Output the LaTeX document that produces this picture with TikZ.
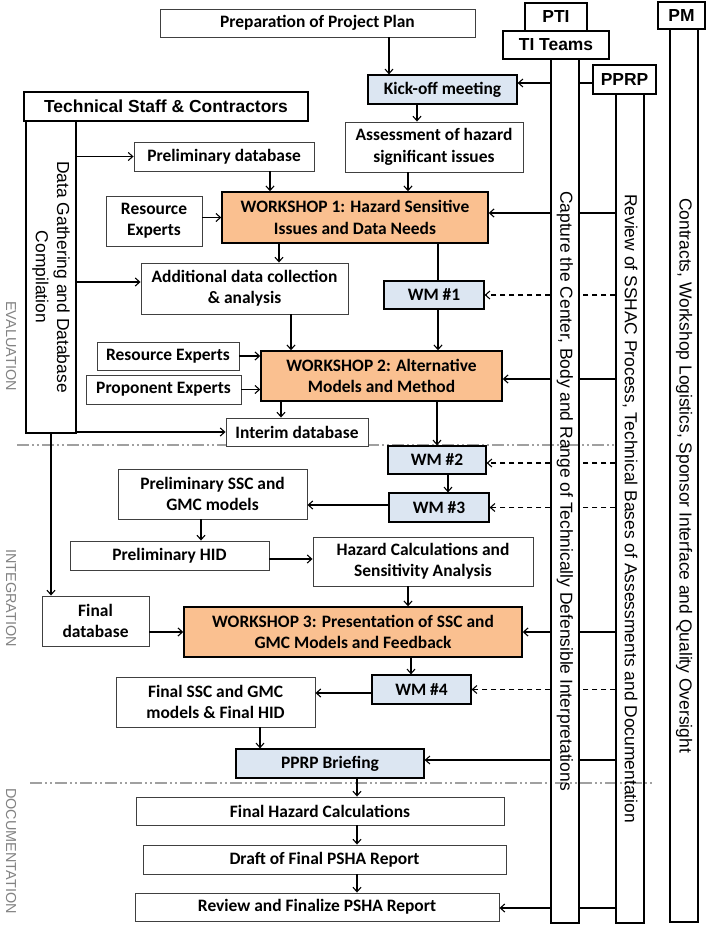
\documentclass[tikz,border=0pt]{standalone}
\usepackage{fontspec}
\setmainfont{Carlito}
\newfontfamily\arialfont{Liberation Sans}
\usetikzlibrary{arrows.meta}
\definecolor{wsorange}{RGB}{250,192,144}
\definecolor{wmblue}{RGB}{220,230,242}
\definecolor{phasegray}{RGB}{130,130,130}
\definecolor{linegray}{RGB}{160,160,160}
\newcommand{\boxfont}{\fontsize{17.5}{21.5}\selectfont\bfseries}
\newcommand{\colfont}{\fontsize{17.5}{21.5}\selectfont\arialfont}
\tikzset{
  box/.style={draw=black!75, line width=0.9bp, fill=white, align=center, font=\boxfont, inner sep=1bp},
  wsbox/.style={box, draw=black, line width=1.4bp, fill=wsorange},
  wmbox/.style={box, draw=black, line width=1.2bp, fill=wmblue},
  teambox/.style={draw=black, line width=1.3bp, fill=white, inner sep=0bp, font=\colfont\bfseries},
  colbox/.style={draw=black, line width=1.3bp, inner sep=0bp},
  coltext/.style={rotate=-90, align=center, font=\colfont},
  phase/.style={rotate=-90, text=phasegray, font=\fontsize{14.5}{17}\selectfont\arialfont},
  flow/.style={->, line width=1.1bp},
  dashflow/.style={flow, dash pattern=on 5bp off 4bp},
  link/.style={line width=1.1bp},
  phaseline/.style={draw=linegray, line width=1.1bp, dash pattern=on 12bp off 3bp on 2bp off 3bp on 2bp off 3bp},
}
\begin{document}
\begin{tikzpicture}[x=1bp,y=-1bp,>={Straight Barb[length=4.5bp,width=8bp]}]
\useasboundingbox (0,0) rectangle (708,928);
%%
% phase separators
\draw [phaseline] (17,445) -- (617,445);
\draw [phaseline] (30,783) -- (655,783);
\node [phase] (evaluation) at (11,346) {EVALUATION};
\node [phase] (integration) at (11,598) {INTEGRATION};
\node [phase] (documentation) at (11,851) {DOCUMENTATION};
%
% Node: teams and their columns
\node [teambox, minimum width=106bp, minimum height=28bp] (titeams) at (556,45) {TI Teams};
\node [teambox, minimum width=62bp, minimum height=28bp] (pti) at (556,17) {PTI};
\node [teambox, minimum width=47bp, minimum height=27bp] (pm) at (681.5,15.5) {PM};
\node [teambox, minimum width=63bp, minimum height=29bp] (pprp) at (624.5,79.5) {PPRP};
\node [colbox, minimum width=28bp, minimum height=864bp] (ticol) at (565,491) {};
\node [coltext] at (ticol) {Capture the Center, Body and Range of Technically Defensible Interpretations};
\node [colbox, minimum width=28bp, minimum height=829bp] (pprpcol) at (630,508.5) {};
\node [coltext] at (pprpcol) {Review of SSHAC Process, Technical Bases of Assessments and Documentation};
\node [colbox, minimum width=28bp, minimum height=893bp] (pmcol) at (684,475.5) {};
\node [coltext] at (pmcol) {Contracts, Workshop Logistics, Sponsor Interface and Quality Oversight};
\node [teambox, minimum width=284bp, minimum height=29bp] (tsc) at (166,106.5) {Technical Staff \& Contractors};
\node [colbox, minimum width=50bp, minimum height=312bp] (dgcol) at (51,277) {};
\node [coltext] at (dgcol) {Data Gathering and Database\\Compilation};
%
% Node: evaluation
\node [box, minimum width=315bp, minimum height=28bp] (prep) at (317.5,23) {Preparation of Project Plan};
\node [wmbox, minimum width=149bp, minimum height=29bp] (kick) at (442.5,89.5) {Kick-off meeting};
\node [box, minimum width=178bp, minimum height=50bp] (assess) at (434,147) {Assessment of hazard\\significant issues};
\node [box, minimum width=180bp, minimum height=29bp] (prelimdb) at (224,156.5) {Preliminary database};
\node [box, minimum width=96bp, minimum height=50bp] (resexp) at (154,221) {Resource\\Experts};
\node [wsbox, minimum width=266bp, minimum height=51bp] (ws1) at (355,217.5) {WORKSHOP 1: Hazard Sensitive\\Issues and Data Needs};
\node [box, minimum width=207bp, minimum height=51bp] (addl) at (244.5,288.5) {Additional data collection\\\& analysis};
\node [wmbox, minimum width=100bp, minimum height=28bp] (wm1) at (434,295) {WM \#1};
\node [box, minimum width=142bp, minimum height=28bp] (resexp2) at (168,356) {Resource Experts};
\node [box, minimum width=155bp, minimum height=29bp] (propexp) at (163.5,389.5) {Proponent Experts};
\node [wsbox, minimum width=241bp, minimum height=50bp] (ws2) at (381.5,376) {WORKSHOP 2: Alternative\\Models and Method};
\node [box, minimum width=142bp, minimum height=28bp] (interim) at (297,432) {Interim database};
%
% Node: integration
\node [wmbox, minimum width=98bp, minimum height=28bp] (wm2) at (437,460) {WM \#2};
\node [wmbox, minimum width=100bp, minimum height=29bp] (wm3) at (439,507.5) {WM \#3};
\node [box, minimum width=189bp, minimum height=50bp] (prelimssc) at (212.5,494) {Preliminary SSC and\\GMC models};
\node [box, minimum width=199bp, minimum height=29bp] (prelimhid) at (169.5,555.5) {Preliminary HID};
\node [box, minimum width=220bp, minimum height=49bp] (hazcalc) at (423,561.5) {Hazard Calculations and\\Sensitivity Analysis};
\node [box, minimum width=107bp, minimum height=50bp] (finaldb) at (95.5,621) {Final\\database};
\node [wsbox, minimum width=338bp, minimum height=50bp] (ws3) at (353,632) {WORKSHOP 3: Presentation of SSC and\\GMC Models and Feedback};
\node [wmbox, minimum width=99bp, minimum height=29bp] (wm4) at (421.5,689.5) {WM \#4};
\node [box, minimum width=199bp, minimum height=50bp] (finalssc) at (215.5,702) {Final SSC and GMC\\models \& Final HID};
\node [wmbox, minimum width=188bp, minimum height=29bp] (briefing) at (330,763.5) {PPRP Briefing};
%
% Node: documentation
\node [box, minimum width=368bp, minimum height=28bp] (finalhaz) at (320,811) {Final Hazard Calculations};
\node [box, minimum width=363bp, minimum height=29bp] (draft) at (324.5,859.5) {Draft of Final PSHA Report};
\node [box, minimum width=364bp, minimum height=28bp] (review) at (317,907) {Review and Finalize PSHA Report};
%
% Edge: prep -> kick -> assess -> ws1
\draw [flow] ([xshift=71.5bp]prep.south) -- ([xshift=71.5bp]prep.south |- kick.north);
\draw [flow] ([xshift=-25.5bp]kick.south) -- ([xshift=-25.5bp]kick.south |- assess.north);
\draw [flow] ([xshift=-26bp]assess.south) -- ([xshift=-26bp]assess.south |- ws1.north);
% Edge: ticol -> kick, ticol -- pprp
\draw [flow] ([yshift=6.5bp]ticol.west |- kick.east) -- ([yshift=6.5bp]kick.east);
\draw [link] ([yshift=-3.5bp]ticol.east |- pprp.west) -- ([yshift=-3.5bp]pprp.west);
% Edge: dgcol -> prelimdb, addl, interim, finaldb
\draw [flow] (dgcol.east |- prelimdb.west) -- (prelimdb.west);
\draw [flow] ([yshift=6.5bp]dgcol.east |- addl.west) -- ([yshift=6.5bp]addl.west);
\draw [flow] (dgcol.east |- interim.west) -- (interim.west);
\draw [flow] (dgcol.south) -- (dgcol.south |- finaldb.north);
% Edge: inputs -> ws1
\draw [flow] ([xshift=46bp]prelimdb.south) -- ([xshift=46bp]prelimdb.south |- ws1.north);
\draw [flow] (resexp.east |- ws1.west) -- (ws1.west);
% Edge: ws1 -> addl, wm1 -> ws2
\draw [flow] ([xshift=-76bp]ws1.south) -- ([xshift=-76bp]ws1.south |- addl.north);
\draw [link] ([xshift=4bp]wm1.north |- ws1.south) -- ([xshift=4bp]wm1.north);
\draw [flow] ([xshift=4bp]wm1.south) -- ([xshift=4bp]wm1.south |- ws2.north);
% Edge: inputs -> ws2
\draw [flow] ([xshift=46.5bp]addl.south) -- ([xshift=46.5bp]addl.south |- ws2.north);
\draw [flow] (resexp2.east) -- (resexp2.east -| ws2.west);
\draw [flow] (propexp.east) -- (propexp.east -| ws2.west);
% Edge: ws2 -> interim, wm2 -> wm3 -> prelimssc
\draw [flow] ([xshift=-100.5bp]ws2.south) -- ([xshift=-100.5bp]ws2.south |- interim.north);
\draw [flow] (wm2.north |- ws2.south) -- (wm2.north);
\draw [flow] ([xshift=11bp]wm2.south) -- ([xshift=11bp]wm2.south |- wm3.north);
\draw [flow] ([yshift=2.5bp]wm3.west) -- ([yshift=2.5bp]wm3.west -| prelimssc.east);
\draw [flow] ([xshift=-11.5bp]prelimssc.south) -- ([xshift=-11.5bp]prelimssc.south |- prelimhid.north);
\draw [flow] ([yshift=-3.5bp]prelimhid.east) -- ([yshift=-3.5bp]prelimhid.east -| hazcalc.west);
\draw [flow] ([xshift=-15bp]hazcalc.south) -- ([xshift=-15bp]hazcalc.south |- ws3.north);
\draw [flow] (finaldb.east |- ws3.west) -- (ws3.west);
% Edge: ws3 -> wm4 -> finalssc -> briefing -> documentation
\draw [flow] ([xshift=-10.5bp]wm4.north |- ws3.south) -- ([xshift=-10.5bp]wm4.north);
\draw [flow] ([yshift=-3.5bp]wm4.west) -- ([yshift=-3.5bp]wm4.west -| finalssc.east);
\draw [flow] ([xshift=44.5bp]finalssc.south) -- ([xshift=44.5bp]finalssc.south |- briefing.north);
\draw [flow] ([xshift=27bp]briefing.south) -- ([xshift=27bp]briefing.south |- finalhaz.north);
\draw [flow] ([xshift=27bp]briefing.south |- finalhaz.south) -- ([xshift=27bp]briefing.south |- draft.north);
\draw [flow] ([xshift=27bp]briefing.south |- draft.south) -- ([xshift=27bp]briefing.south |- review.north);
% Edge: pprpcol -- ticol -> workshops, briefing, review
\draw [link] ([yshift=4.5bp]pprpcol.west |- ws1.east) -- ([yshift=4.5bp]ticol.east |- ws1.east);
\draw [flow] ([yshift=4.5bp]ticol.west |- ws1.east) -- ([yshift=4.5bp]ws1.east);
\draw [link] ([yshift=-3bp]pprpcol.west |- ws2.east) -- ([yshift=-3bp]ticol.east |- ws2.east);
\draw [flow] ([yshift=-3bp]ticol.west |- ws2.east) -- ([yshift=-3bp]ws2.east);
\draw [link] (pprpcol.west |- ws3.east) -- (ticol.east |- ws3.east);
\draw [flow] (ticol.west |- ws3.east) -- (ws3.east);
\draw [link] ([yshift=3.5bp]pprpcol.west |- briefing.east) -- ([yshift=3.5bp]ticol.east |- briefing.east);
\draw [flow] ([yshift=3.5bp]ticol.west |- briefing.east) -- ([yshift=3.5bp]briefing.east);
\draw [link] ([yshift=-1bp]pprpcol.west |- review.east) -- ([yshift=-1bp]ticol.east |- review.east);
\draw [flow] ([yshift=-1bp]ticol.west |- review.east) -- ([yshift=-1bp]review.east);
% Edge: pprpcol -- ticol -> working meetings (dashed)
\draw [dashflow, -] (pprpcol.west |- wm1.east) -- (ticol.east |- wm1.east);
\draw [dashflow] (ticol.west |- wm1.east) -- (wm1.east);
\draw [dashflow, -] ([yshift=-3bp]pprpcol.west |- wm2.east) -- ([yshift=-3bp]ticol.east |- wm2.east);
\draw [dashflow] ([yshift=-3bp]ticol.west |- wm2.east) -- ([yshift=-3bp]wm2.east);
\draw [dashflow, -] (pprpcol.west |- wm3.east) -- (ticol.east |- wm3.east);
\draw [dashflow] (ticol.west |- wm3.east) -- (wm3.east);
\draw [dashflow, -] (pprpcol.west |- wm4.east) -- (ticol.east |- wm4.east);
\draw [dashflow] (ticol.west |- wm4.east) -- (wm4.east);
%
\end{tikzpicture}
\end{document}
